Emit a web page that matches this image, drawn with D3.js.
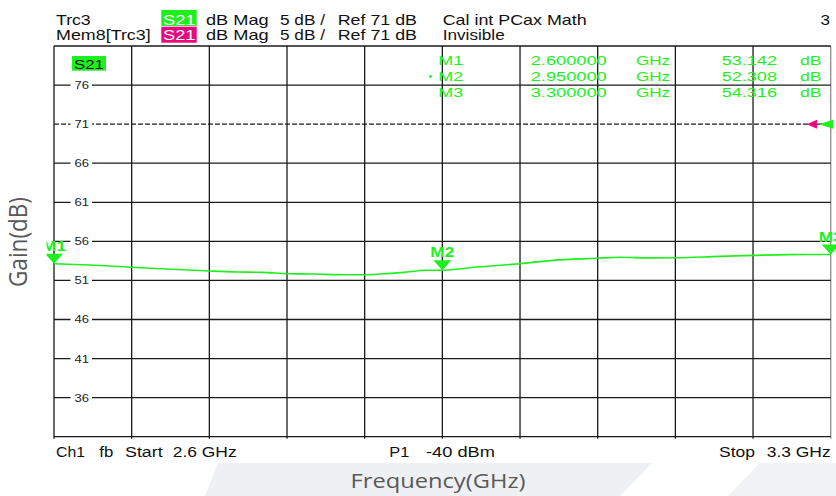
<!DOCTYPE html>
<html lang="en">
<head>
<meta charset="UTF-8">
<title>S21 Gain vs Frequency</title>
<style>
body { margin: 0; background: #fff; }
svg { display: block; font-family: "Liberation Sans", Arial, sans-serif; }
</style>
</head>
<body>
<svg id="chart" width="836" height="496"></svg>
<script src="https://cdn.jsdelivr.net/npm/d3@7"></script>
<script>
// trace (GHz / dB)
const freq = [2.600, 2.632, 2.669, 2.707, 2.741, 2.765, 2.788, 2.811, 2.833, 2.864, 2.880,
  2.894, 2.915, 2.935, 2.950, 2.962, 2.975, 2.999, 3.020, 3.050, 3.089, 3.110, 3.140,
  3.161, 3.200, 3.230, 3.261, 3.300];
const gain = [53.14, 52.97, 52.68, 52.42, 52.20, 52.08, 52.03, 51.86, 51.82, 51.73, 51.73,
  51.82, 52.03, 52.30, 52.31, 52.42, 52.63, 52.90, 53.14, 53.57, 53.83, 53.96, 53.88,
  53.90, 54.08, 54.20, 54.30, 54.32];

const markerNames = ['M1', 'M2', 'M3'];
const markerFreq = [2.6, 2.95, 3.3];
const markerGain = [53.142, 52.308, 54.316];

const freqTicks = [2.60, 2.67, 2.74, 2.81, 2.88, 2.95, 3.02, 3.09, 3.16, 3.23, 3.30];
const gainTicks = [36, 41, 46, 51, 56, 61, 66, 71, 76];
const refLevel = 71;

const green = '#1ef01e', magenta = '#e8087e';

const svg = d3.select('#chart');

const x = d3.scaleLinear().domain([2.6, 3.3]).range([54, 830.7]);
const y = d3.scaleLinear().domain([31, 81]).range([436.7, 46]);

// helper for the instrument text (the screenshot is stretched sideways)
function txt(g, px, py, str, size, len, opt) {
  opt = opt || {};
  const t = g.append('text')
    .attr('x', px).attr('y', py)
    .attr('font-size', size)
    .attr('fill', opt.fill || '#111')
    .attr('text-anchor', opt.anchor || 'start')
    .text(str);
  if (len) t.attr('textLength', len).attr('lengthAdjust', 'spacingAndGlyphs');
  if (opt.weight) t.attr('font-weight', opt.weight);
  return t;
}

// slide background stripes
svg.append('polygon').attr('points', '218,463 652,463 620,496 205,496').attr('fill', '#eff0f3');
svg.append('polygon').attr('points', '760,463 836,463 836,496 728,496').attr('fill', '#f1f2f5');

// header lines
const hd = svg.append('g');
txt(hd, 56, 24.5, 'Trc3', 15, 34.7);
txt(hd, 56, 40, 'Mem8[Trc3]', 15, 94.7);
hd.append('rect').attr('x', 161.3).attr('y', 10).attr('width', 35.4).attr('height', 16).attr('fill', green);
hd.append('rect').attr('x', 161.3).attr('y', 26.7).attr('width', 35.4).attr('height', 16).attr('fill', magenta);
txt(hd, 163, 24.5, 'S21', 15, 32.5, {fill: '#fff'});
txt(hd, 163, 40, 'S21', 15, 32.5, {fill: '#fff'});
[24.5, 40].forEach(by => {
  txt(hd, 206, by, 'dB Mag', 15, 62.7);
  txt(hd, 280, by, '5 dB /', 15, 45);
  txt(hd, 337.7, by, 'Ref 71 dB', 15, 79.3);
});
txt(hd, 442.7, 24.5, 'Cal int PCax Math', 15, 144);
txt(hd, 442.7, 40, 'Invisible', 15, 62);
txt(hd, 830, 24.5, '3', 15, 9.5, {anchor: 'end'});

// grid
const grid = svg.append('g').attr('stroke', '#1a1a1a').attr('stroke-width', 1.3);
grid.selectAll('line.v').data(freqTicks).enter().append('line')
  .attr('x1', d => x(d)).attr('x2', d => x(d))
  .attr('y1', y(81)).attr('y2', y(31) + 2)
  .attr('stroke', (d, i) => i === freqTicks.length - 1 ? '#8c8c8c' : '#1a1a1a');
grid.selectAll('line.h').data(gainTicks.filter(d => d !== refLevel)).enter().append('line')
  .attr('x1', x(2.6)).attr('x2', x(3.3))
  .attr('y1', d => y(d)).attr('y2', d => y(d));
grid.append('line').attr('x1', x(2.6)).attr('x2', x(3.3)).attr('y1', y(81)).attr('y2', y(81));
grid.append('line').attr('x1', x(2.6)).attr('x2', x(3.3)).attr('y1', y(31)).attr('y2', y(31));
// reference level, dashed
svg.append('line')
  .attr('x1', x(2.6)).attr('x2', x(3.3)).attr('y1', y(refLevel)).attr('y2', y(refLevel))
  .attr('stroke', '#1a1a1a').attr('stroke-width', 1.4).attr('stroke-dasharray', '5,2');

// y labels sitting in a gap of the grid line
const yl = svg.selectAll('g.ylab').data(gainTicks).enter().append('g');
yl.append('rect')
  .attr('x', 70.5).attr('width', 21.5)
  .attr('y', d => y(d) - 5).attr('height', 10).attr('fill', '#fff');
yl.each(function(d) {
  txt(d3.select(this), 81.7, y(d) + 4, String(d), 10.5, 14.5, {anchor: 'middle', fill: '#222'});
});

// S21 trace tag
svg.append('rect').attr('x', 72).attr('y', 56).attr('width', 34).attr('height', 14.7).attr('fill', green);
txt(svg, 74, 68.5, 'S21', 13.5, 30);

// marker table
const tb = svg.append('g');
markerNames.forEach((m, i) => {
  const by = 65.3 + i * 15.7;
  txt(tb, 438.3, by, m, 12.5, 25, {fill: green});
  txt(tb, 530.7, by, markerFreq[i].toFixed(6), 12.5, 76, {fill: green});
  txt(tb, 636, by, 'GHz', 12.5, 34, {fill: green});
  txt(tb, 777, by, markerGain[i].toFixed(3), 12.5, 55.3, {fill: green, anchor: 'end'});
  txt(tb, 800, by, 'dB', 12.5, 21.7, {fill: green});
});
tb.append('circle').attr('cx', 430.5).attr('cy', 76.5).attr('r', 1.4).attr('fill', green);

// trace
svg.append('path')
  .datum(freq.map((f, i) => [f, gain[i]]))
  .attr('fill', 'none')
  .attr('stroke', green)
  .attr('stroke-width', 1.6)
  .attr('d', d3.line().x(d => x(d[0])).y(d => y(d[1])).curve(d3.curveMonotoneX));

// markers on the trace
svg.append('clipPath').attr('id', 'mclip')
  .append('rect').attr('x', 46.5).attr('y', 0).attr('width', 800).attr('height', 496);
const mk = svg.append('g').attr('clip-path', 'url(#mclip)');
markerNames.forEach((m, i) => {
  const mx = x(markerFreq[i]), my = y(markerGain[i]);
  mk.append('path')
    .attr('d', `M${mx - 9},${my - 10}L${mx + 9},${my - 10}L${mx},${my}Z`)
    .attr('fill', green);
  txt(mk, mx, my - 13, m, 14, 24, {fill: green, anchor: 'middle', weight: 'bold'});
});

// reference level arrows at the right edge
const ry = y(refLevel), rx = x(3.3);
svg.append('path').attr('d', `M${rx - 24},${ry}L${rx - 13.7},${ry - 4.5}L${rx - 13.7},${ry + 4.5}Z`).attr('fill', magenta);
svg.append('path').attr('d', `M${rx - 11.7},${ry}L${rx + 2.3},${ry - 4.5}L${rx + 2.3},${ry + 4.5}Z`).attr('fill', green);

// footer of the instrument screen
const ft = svg.append('g');
txt(ft, 56, 456.7, 'Ch1', 14, 29);
txt(ft, 99.3, 456.7, 'fb', 14, 14);
txt(ft, 125, 456.7, 'Start', 14, 37.7);
txt(ft, 172.7, 456.7, '2.6 GHz', 14, 64);
txt(ft, 389.3, 456.7, 'P1', 14, 20);
txt(ft, 426, 456.7, '-40 dBm', 14, 69);
txt(ft, 719, 456.7, 'Stop', 14, 36);
txt(ft, 766.7, 456.7, '3.3 GHz', 14, 64);

// axis titles
svg.append('text')
  .attr('x', 438).attr('y', 488)
  .attr('text-anchor', 'middle')
  .attr('font-family', '"Open Sans", sans-serif')
  .attr('font-size', 20).attr('fill', '#595959')
  .attr('textLength', 175).attr('lengthAdjust', 'spacingAndGlyphs')
  .text('Frequency(GHz)');
svg.append('text')
  .attr('transform', 'translate(27,242) scale(1.3,1) rotate(-90)')
  .attr('text-anchor', 'middle')
  .attr('font-family', '"Open Sans", sans-serif')
  .attr('font-size', 20).attr('fill', '#595959')
  .attr('textLength', 90).attr('lengthAdjust', 'spacingAndGlyphs')
  .text('Gain(dB)');
</script>
</body>
</html>
